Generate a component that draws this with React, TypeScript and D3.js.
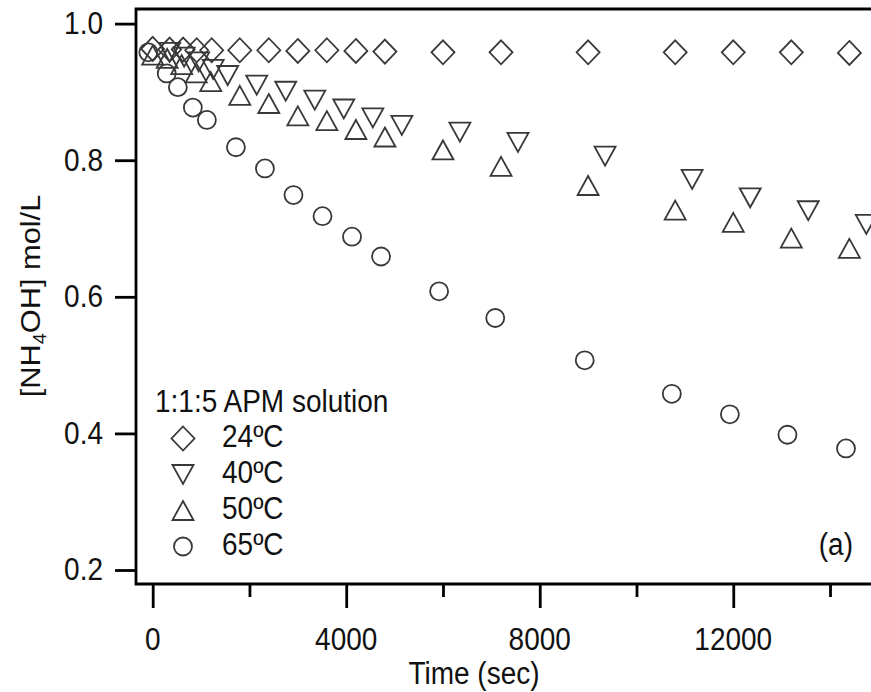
import React, { useEffect, useRef } from 'react';
import * as d3 from 'd3';

const WIDTH = 871;
const HEIGHT = 692;

// [time (sec), [NH4OH] mol/L]
const apm24 = [
  [0, 0.963], [350, 0.962], [630, 0.962], [910, 0.961], [1220, 0.961],
  [1800, 0.961], [2400, 0.961], [3000, 0.960], [3600, 0.961], [4200, 0.960],
  [4800, 0.959], [6000, 0.958], [7200, 0.958], [9000, 0.958], [10800, 0.958],
  [12000, 0.958], [13200, 0.958], [14400, 0.957],
];
const apm40 = [
  [350, 0.958], [650, 0.951], [950, 0.944], [1250, 0.933], [1550, 0.924],
  [2150, 0.910], [2750, 0.901], [3350, 0.888], [3950, 0.875], [4550, 0.862],
  [5150, 0.851], [6350, 0.841], [7550, 0.826], [9350, 0.806], [11150, 0.772],
  [12350, 0.745], [13550, 0.726], [14750, 0.706],
];
const apm50 = [
  [0, 0.954], [300, 0.949], [600, 0.940], [900, 0.928], [1200, 0.915],
  [1800, 0.895], [2400, 0.883], [3000, 0.865], [3600, 0.858], [4200, 0.845],
  [4800, 0.834], [6000, 0.815], [7200, 0.791], [9000, 0.763], [10800, 0.727],
  [12000, 0.709], [13200, 0.686], [14400, 0.671],
];
const apm65 = [
  [-90, 0.958], [290, 0.927], [520, 0.907], [830, 0.877], [1120, 0.859],
  [1720, 0.819], [2320, 0.788], [2910, 0.749], [3510, 0.718], [4120, 0.688],
  [4720, 0.659], [5920, 0.608], [7080, 0.569], [8930, 0.507], [10730, 0.458],
  [11930, 0.428], [13120, 0.398], [14330, 0.378],
];

const seriesData = [apm24, apm40, apm50, apm65];
const markerKinds = ['diamond', 'down', 'up', 'circle'];
const legendTitle = '1:1:5 APM solution';
const legendLabels = ['24ºC', '40ºC', '50ºC', '65ºC'];

const xMajorTicks = [0, 4000, 8000, 12000];
const xMinorTicks = [2000, 6000, 10000, 14000];
const yTicks = [0.2, 0.4, 0.6, 0.8, 1.0];

const FONT = '"Liberation Sans", Arial, Helvetica, sans-serif';
const STRETCH = 1.1; // the source figure is a little taller than wide

function markerPath(kind: string) {
  switch (kind) {
    case 'diamond':
      return 'M0,-12L11.5,0L0,12L-11.5,0Z';
    case 'down':
      return 'M-10.5,-9.5L10.5,-9.5L0,9.5Z';
    case 'up':
      return 'M0,-9.5L10.5,9.5L-10.5,9.5Z';
    default:
      return d3.symbol(d3.symbolCircle, Math.PI * 81)() as string;
  }
}

function App() {
  const svgRef = useRef<SVGSVGElement>(null);

  useEffect(() => {
    const svg = d3.select(svgRef.current);
    svg.selectAll('*').remove();

    const left = 136, top = 9, bottom = 584;

    const x = d3.scaleLinear().domain([-345, 15000]).range([left, 878.4]);
    const y = d3.scaleLinear().domain([0.1795, 1.0214]).range([bottom, top]);

    const label = (g: any, tx: number, ty: number, txt: string, anchor: string, size = 28) =>
      g.append('text')
        .attr('transform', `translate(${tx},${ty}) scale(1,${STRETCH})`)
        .attr('text-anchor', anchor)
        .attr('font-family', FONT)
        .attr('font-size', size)
        .attr('fill', '#111')
        .text(txt);

    // frame
    const frame = svg.append('g').attr('stroke', '#000').attr('stroke-width', 2.8).attr('fill', 'none');
    frame.append('path').attr('d', `M${WIDTH + 5},${top}H${left}V${bottom}H${WIDTH + 5}`);

    // x ticks
    svg.append('g')
      .attr('transform', `translate(0,${bottom})`)
      .call(d3.axisBottom(x).tickValues(xMajorTicks).tickSize(24).tickFormat(() => ''))
      .call(g => g.select('.domain').remove())
      .call(g => g.selectAll('line').attr('stroke', '#000').attr('stroke-width', 2.8));
    svg.append('g')
      .attr('transform', `translate(0,${bottom})`)
      .call(d3.axisBottom(x).tickValues(xMinorTicks).tickSize(13).tickFormat(() => ''))
      .call(g => g.select('.domain').remove())
      .call(g => g.selectAll('line').attr('stroke', '#000').attr('stroke-width', 2.8));

    // y ticks
    svg.append('g')
      .attr('transform', `translate(${left},0)`)
      .call(d3.axisLeft(y).tickValues(yTicks).tickSize(21).tickFormat(() => ''))
      .call(g => g.select('.domain').remove())
      .call(g => g.selectAll('line').attr('stroke', '#000').attr('stroke-width', 2.8));

    const labels = svg.append('g');
    xMajorTicks.forEach(t => label(labels, x(t), 650, d3.format('d')(t), 'middle'));
    yTicks.forEach(v => label(labels, 103, y(v) + 10.5, d3.format('.1f')(v), 'end'));
    label(labels, 474, 684, 'Time (sec)', 'middle');

    // y title with subscript
    const yTitle = svg.append('text')
      .attr('transform', `translate(40,296) scale(1,${STRETCH}) rotate(-90)`)
      .attr('text-anchor', 'middle')
      .attr('font-family', FONT)
      .attr('font-size', 28)
      .attr('fill', '#111');
    yTitle.append('tspan').text('[NH');
    yTitle.append('tspan').attr('font-size', 18).attr('dy', 6).text('4');
    yTitle.append('tspan').attr('dy', -6).text('OH] mol/L');

    // markers
    seriesData.forEach((data, i) => {
      svg.append('g')
        .attr('fill', 'none')
        .attr('stroke', '#383838')
        .attr('stroke-width', 1.8)
        .selectAll('path')
        .data(data)
        .join('path')
        .attr('transform', d => `translate(${x(d[0])},${y(d[1])})`)
        .attr('d', markerPath(markerKinds[i]));
    });

    // legend
    const legend = svg.append('g');
    label(legend, 155, 412, legendTitle, 'start');
    legendLabels.forEach((txt, i) => {
      legend.append('path')
        .attr('transform', `translate(183,${438.5 + i * 36})`)
        .attr('d', markerPath(markerKinds[i]))
        .attr('fill', 'none')
        .attr('stroke', '#383838')
        .attr('stroke-width', 1.8);
      label(legend, 222, 447 + i * 36, txt, 'start');
    });

    label(svg, 853, 555, '(a)', 'end');
  }, []);

  return (
    <svg
      ref={svgRef}
      width={WIDTH}
      height={HEIGHT}
      style={{ position: 'absolute', left: 0, top: 0, background: '#fff', display: 'block' }}
    />
  );
}

export default App;
